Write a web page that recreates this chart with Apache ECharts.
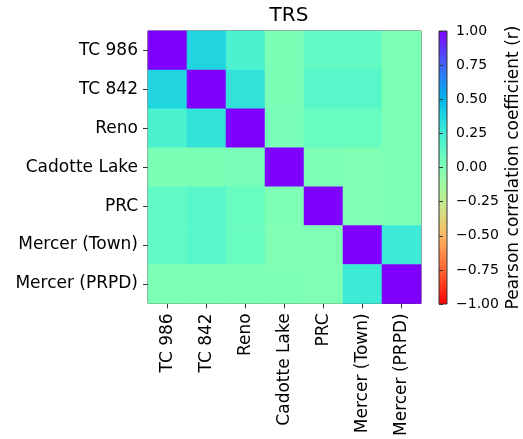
<!DOCTYPE html>
<html><head><meta charset="utf-8">
<script src="https://cdn.jsdelivr.net/npm/echarts@6/dist/echarts.min.js"></script>
<style>html,body{margin:0;padding:0;background:#fff}#c{width:523px;height:439px}</style>
</head><body><div id="c"></div>
<script>
const categories = ['TC 986','TC 842','Reno','Cadotte Lake','PRC','Mercer (Town)','Mercer (PRPD)'];
const rowTC986   = [1.00, 0.37, 0.21, 0.02, 0.12, 0.12, 0.01];
const rowTC842   = [0.37, 1.00, 0.30, 0.02, 0.16, 0.16, 0.01];
const rowReno    = [0.21, 0.30, 1.00, 0.03, 0.09, 0.09, 0.01];
const rowCadotte = [0.02, 0.02, 0.03, 1.00, 0.01, 0.00, 0.01];
const rowPRC     = [0.12, 0.16, 0.09, 0.01, 1.00, 0.00, 0.01];
const rowTown    = [0.12, 0.16, 0.09, 0.00, 0.00, 1.00, 0.26];
const rowPRPD    = [0.01, 0.01, 0.01, 0.01, 0.00, 0.26, 1.00];
const colorbarTicks = [-1, -0.75, -0.5, -0.25, 0, 0.25, 0.5, 0.75, 1];

const rows = [rowTC986,rowTC842,rowReno,rowCadotte,rowPRC,rowTown,rowPRPD];
const data = [];
rows.forEach((r,yi)=>r.forEach((v,xi)=>data.push([xi,yi,v])));

// matplotlib 'rainbow' colormap, reversed (value -1 -> red, 1 -> purple)
function rainbow(x){
  const r=Math.min(1,Math.abs(2*x-0.5)), g=Math.sin(Math.PI*x), b=Math.cos(Math.PI*x/2);
  const h=t=>Math.round(Math.max(0,Math.min(1,t))*255).toString(16).padStart(2,'0');
  return '#'+h(r)+h(g)+h(b);
}
const stops=[]; const N=40;
for(let i=0;i<=N;i++){ const v=-1+2*i/N; stops.push(rainbow((1-v)/2)); }
const gradient = new echarts.graphic.LinearGradient(0,1,0,0,
  stops.map((c,i)=>({offset:i/N,color:c})));

const font='DejaVu Sans';
const chart=echarts.init(document.getElementById('c'));
chart.setOption({
  animation:false,
  title:{text:'TRS',left:284,top:1,textAlign:'center',textStyle:{fontFamily:font,fontSize:20,fontWeight:'normal',color:'#000'}},
  grid:[
    {left:148,top:31,width:273,height:273,show:true,borderColor:'#333',borderWidth:1,backgroundColor:'transparent'},
    {left:439,top:31,width:15,height:273,show:true,borderColor:'#333',borderWidth:1,backgroundColor:gradient}
  ],
  xAxis:[
    {type:'category',data:categories,gridIndex:0,position:'bottom',
     axisLine:{show:false},axisTick:{show:true,alignWithLabel:true,length:5,lineStyle:{color:'#333'}},
     axisLabel:{rotate:90,fontFamily:font,fontSize:17,color:'#000',margin:10},splitLine:{show:false}},
    {type:'value',gridIndex:1,show:false,min:0,max:1}
  ],
  yAxis:[
    {type:'category',data:categories,gridIndex:0,inverse:true,
     axisLine:{show:false},axisTick:{show:true,alignWithLabel:true,length:5,lineStyle:{color:'#333'}},
     axisLabel:{fontFamily:font,fontSize:17,color:'#000',margin:10},splitLine:{show:false}},
    {type:'value',gridIndex:1,position:'right',min:-1,max:1,interval:0.25,
     axisLine:{show:false},axisTick:{show:true,length:4,lineStyle:{color:'#333'}},
     splitLine:{show:false},
     axisLabel:{fontFamily:font,fontSize:14,color:'#000',margin:9,
       formatter:v=>v.toFixed(2).replace('-','\u2212')},
     name:'Pearson correlation coefficient (r)',nameLocation:'middle',nameRotate:90,nameGap:58,
     nameTextStyle:{fontFamily:font,fontSize:17,color:'#000'}}
  ],
  visualMap:{type:'continuous',min:-1,max:1,dimension:2,seriesIndex:0,calculable:false,
    show:false,inRange:{color:stops}},
  series:[{type:'heatmap',xAxisIndex:0,yAxisIndex:0,data:data,itemStyle:{borderWidth:0},emphasis:{disabled:true}}]
});
</script></body></html>
